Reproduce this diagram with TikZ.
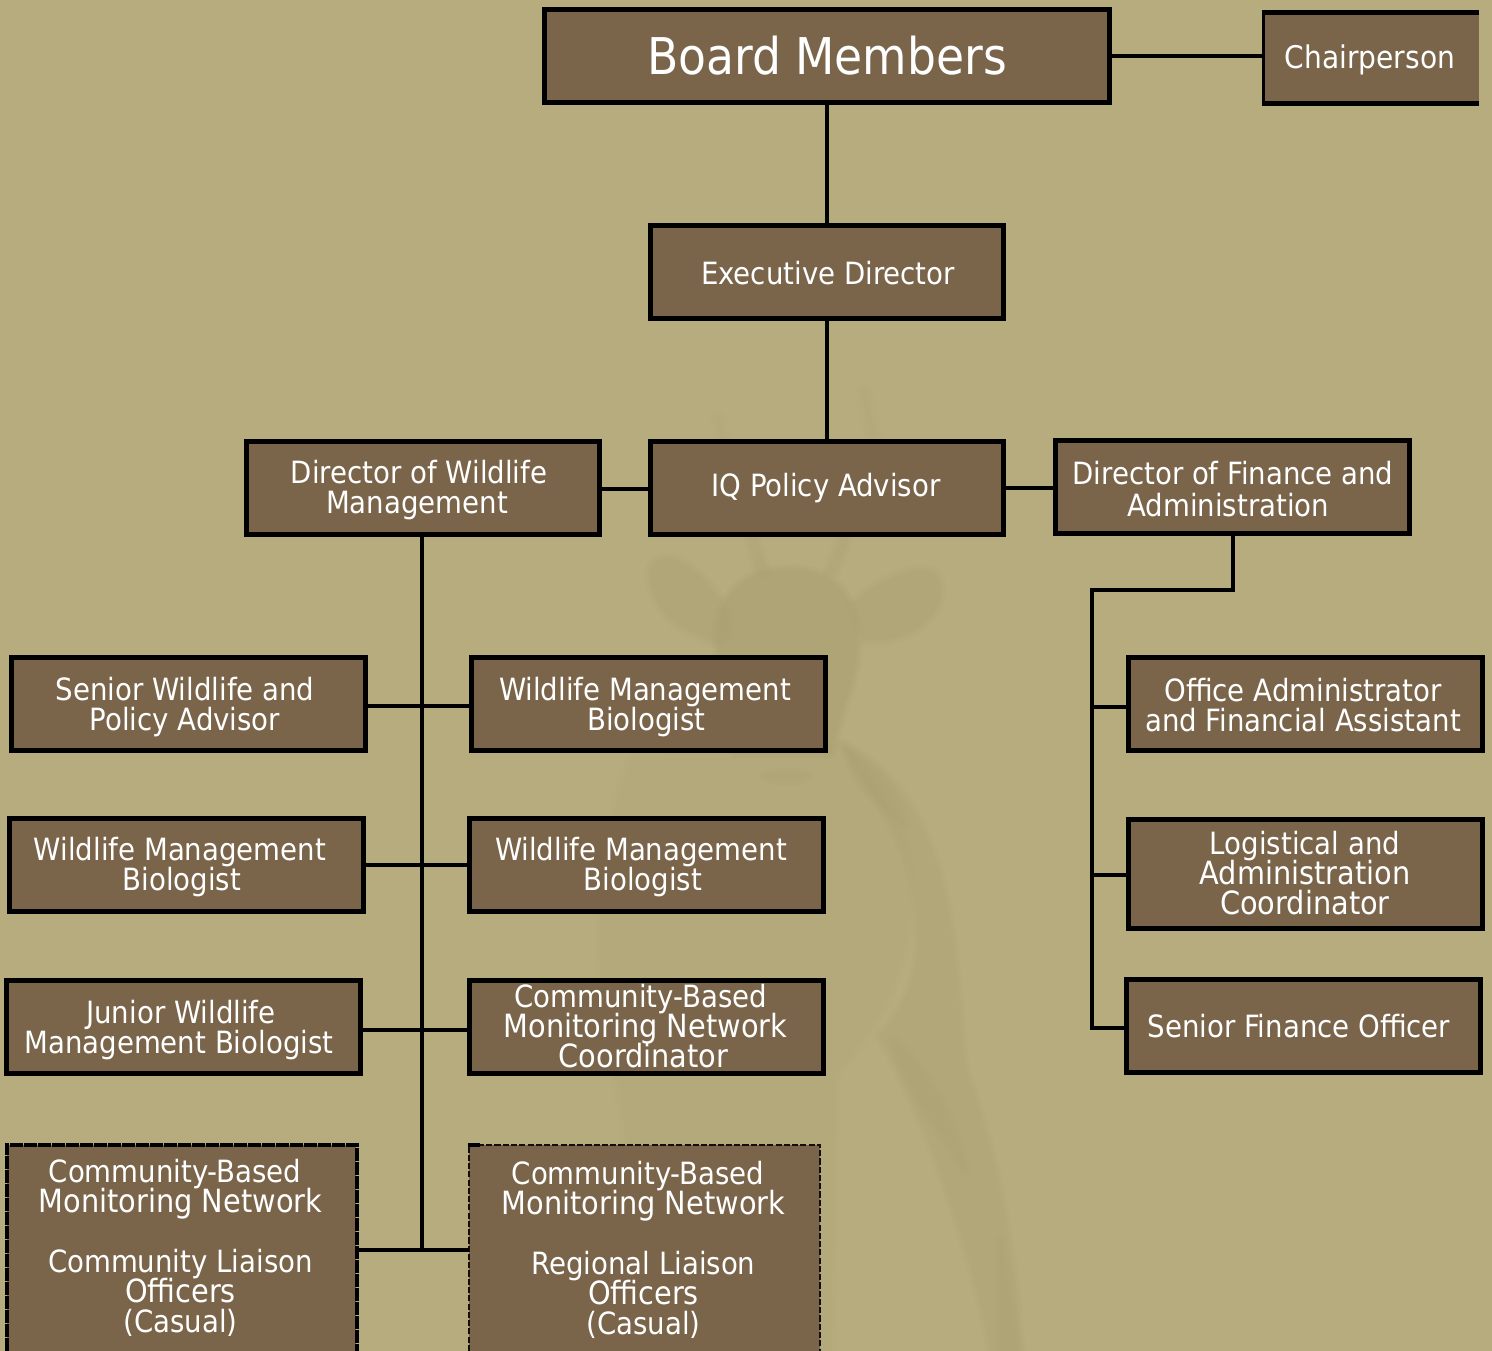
\documentclass[tikz,border=0pt]{standalone}
\usepackage{fontspec}
\setmainfont{DejaVu Sans Condensed}
\definecolor{bgc}{HTML}{B7AC7E}
\definecolor{boxc}{HTML}{7A654B}
\definecolor{deerc}{HTML}{A09566}
\newcommand{\fs}{\fontsize{23pt}{22.5pt}\selectfont\lineskiplimit=-100pt}
\newcommand{\bl}[1]{{\fontsize{24pt}{22.5pt}\selectfont #1}}
\tikzset{
  orgbox/.style={draw=black,line width=3.2pt,fill=boxc,rectangle,inner sep=0pt,line join=miter},
  openbox/.style={fill=boxc,rectangle,inner sep=0pt},
  lbl/.style={text=white,align=center,inner sep=0pt,font=\fs},
  link/.style={draw=black,line width=3.4pt,line cap=butt,line join=miter},
  dashL/.style={draw=black,line width=3pt,dash pattern=on 9.6pt off 0.9pt},
  dashR/.style={draw=black!85!boxc,line width=1.6pt,dash pattern=on 4.6pt off 1.6pt},
}
% a shape with soft edges: three stacked faint layers
\newcommand{\softshape}[2]{%
  \begin{scope}[transparency group,opacity=#1]\path[draw=deerc,fill=deerc,line join=round,line width=9pt] #2;\end{scope}
  \begin{scope}[transparency group,opacity=#1]\path[draw=deerc,fill=deerc,line join=round,line width=4pt] #2;\end{scope}
  \begin{scope}[transparency group,opacity=#1]\path[fill=deerc] #2;\end{scope}
}
\begin{document}
\begin{tikzpicture}[x=0.75pt,y=-0.75pt]
\useasboundingbox (0,0) rectangle (1492,1351);
\clip (0,0) rectangle (1492,1351);
\fill[bgc] (0,0) rectangle (1492,1351);
% faint caribou in the background
\softshape{.035}{(633,757) .. controls (600,830) and (590,950) .. (612,1060) .. controls (630,1120) and (630,1200) .. (640,1351) -- (830,1351) -- (835,1075) .. controls (900,1000) and (920,930) .. (905,850) .. controls (890,800) and (860,770) .. (843,745) -- cycle}
\softshape{.05}{(843,745) .. controls (890,770) and (925,810) .. (945,900) .. controls (960,980) and (960,1050) .. (965,1070) .. controls (985,1130) and (1010,1210) .. (1020,1351) -- (992,1351) .. controls (975,1260) and (930,1120) .. (880,1036) .. controls (915,1000) and (925,960) .. (915,890) .. controls (905,830) and (870,790) .. (843,745) -- cycle}
\softshape{.05}{(848,750) .. controls (880,770) and (900,800) .. (905,825) .. controls (885,805) and (855,790) .. (848,750) -- cycle}
\softshape{.05}{(893,1040) .. controls (920,1060) and (950,1110) .. (965,1170) .. controls (940,1130) and (905,1085) .. (893,1040) -- cycle}
\softshape{.05}{(1000,1240) .. controls (1005,1280) and (1012,1310) .. (1018,1351) -- (1000,1351) -- cycle}
% head, ears, antlers
\softshape{.10}{(718,625) .. controls (725,590) and (750,570) .. (790,570) .. controls (830,570) and (845,590) .. (852,612) .. controls (865,640) and (850,690) .. (845,700) -- (830,752) -- (735,752) .. controls (730,720) and (715,670) .. (718,625) -- cycle}
\softshape{.06}{(650,572) .. controls (660,540) and (705,570) .. (725,610) .. controls (735,640) and (722,650) .. (695,632) .. controls (670,625) and (650,600) .. (650,572) -- cycle}
\softshape{.06}{(852,605) .. controls (885,575) and (935,555) .. (940,585) .. controls (945,620) and (900,645) .. (865,640) -- cycle}
\softshape{.05}{(750,538) -- (755,538) -- (766,572) -- (758,572) -- cycle}
\softshape{.05}{(842,538) -- (848,538) -- (835,572) -- (828,572) -- cycle}
\softshape{.04}{(862,390) -- (866,390) -- (876,438) -- (870,438) -- cycle}
\softshape{.04}{(716,417) -- (719,417) -- (724,438) -- (721,438) -- cycle}
\softshape{.05}{(765,776) .. controls (780,773) and (795,773) .. (807,776) .. controls (795,781) and (780,781) .. (765,776) -- cycle}

% boxes (centre-line sizes)
\node[orgbox,minimum width=565*.75pt,minimum height=93*.75pt] (board) at (827,56) {};
\path[fill=boxc] (1264,12) rectangle (1479,104);
\node[inner sep=0pt,minimum width=215*.75pt,minimum height=92*.75pt] (chair) at (1371.5,58) {};
\draw[black,line width=3.6pt] (1479,12.5) -- (1261.5,12.5);
\draw[black,line width=2.6pt] (1263.5,10) -- (1263.5,106);
\draw[black,line width=3.6pt] (1261.5,103.5) -- (1479,103.5);
\node[orgbox,minimum width=353*.75pt,minimum height=93*.75pt] (exec) at (827,272) {};
\node[orgbox,minimum width=353*.75pt,minimum height=93*.75pt] (iq) at (827,488) {};
\node[orgbox,minimum width=353*.75pt,minimum height=93*.75pt] (dirw) at (423,488) {};
\node[orgbox,minimum width=354*.75pt,minimum height=93*.75pt] (dirf) at (1232.5,487) {};
\node[orgbox,minimum width=354*.75pt,minimum height=93*.75pt] (senior) at (188.5,704) {};
\node[orgbox,minimum width=354*.75pt,minimum height=93*.75pt] (wmbb) at (648.5,704) {};
\node[orgbox,minimum width=354*.75pt,minimum height=93*.75pt] (wmba) at (186.5,865) {};
\node[orgbox,minimum width=354*.75pt,minimum height=93*.75pt] (wmbc) at (646.5,865) {};
\node[orgbox,minimum width=354*.75pt,minimum height=93*.75pt] (junior) at (183.5,1027) {};
\node[orgbox,minimum width=354*.75pt,minimum height=93*.75pt] (coord) at (646.5,1027) {};
\node[orgbox,minimum width=354*.75pt,minimum height=109*.75pt] (logi) at (1305.5,874) {};
\node[orgbox,minimum width=354*.75pt,minimum height=93*.75pt] (office) at (1305.5,704) {};
\node[orgbox,minimum width=354*.75pt,minimum height=93*.75pt] (sfo) at (1303.5,1026) {};
\node[openbox,minimum width=349*.75pt,minimum height=220*.75pt] (cliaison) at (181.5,1255) {};
\node[openbox,minimum width=351*.75pt,minimum height=220*.75pt] (rliaison) at (644.5,1255) {};
\draw[dashL] (6.5,1351) -- (6.5,1144.5) -- (356.5,1144.5) -- (356.5,1351);
\draw[dashR] (469,1351) -- (469,1145) -- (820,1145) -- (820,1351);
\draw[black,line width=3pt] (467.5,1145) -- (480,1145);

% connectors
\coordinate (spineend) at (422,1250);
\coordinate (elbow) at (1092,590);
\coordinate (spineR) at (1092,1028);
\draw[link] (board.east) -- (chair.west |- board.east);
\draw[link] (board.south) -- (exec.north);
\draw[link] (exec.south) -- (iq.north);
\draw[link] ([yshift=-.75pt]dirw.east) -- ([yshift=-.75pt]iq.west);
\draw[link] (iq.east) -- (dirf.west |- iq.east);
\draw[link] (spineend |- dirw.south) -- (spineend);
\draw[link] ([yshift=-1.5pt]senior.east) -- ([yshift=-1.5pt]wmbb.west);
\draw[link] (wmba.east) -- (wmbc.west);
\draw[link] ([yshift=-2.25pt]junior.east) -- ([yshift=-2.25pt]coord.west);
\draw[link] (cliaison.east |- spineend) -- (rliaison.west |- spineend);
\draw[link] (1233,533) -- (1233,590) -- (elbow) -- (spineR) -- (spineR -| sfo.west);
\draw[link] (elbow |- 0,707) -- (office.west |- 0,707);
\draw[link] (elbow |- 0,875) -- (logi.west |- 0,875);

% labels
\node[lbl,font=\fontsize{38pt}{38pt}\selectfont] (tboard) at (827,56) {Board Members};
\node[lbl] (tchair) at (1370,60) {\fontsize{23.4pt}{22.5pt}\selectfont Chairperson};
\node[lbl] (texec) at (828,273) {Executive Director};
\node[lbl] (tiq) at (826,488) {IQ Policy Advisor};
\node[lbl] (tdirw) at (419,490) {Director of Wildlife\\Management\hspace*{3pt}};
\node[lbl] (tdirf) at (1233,489) {Director of Finance and\\[1pt]Administration\hspace*{7pt}};
\node[lbl] (tsenior) at (185,707) {Senior Wildlife and\\Policy Advisor};
\node[lbl] (twmbb) at (645,707) {Wildlife Management\\\hspace*{2pt}Biologist};
\node[lbl] (twmba) at (180,867) {Wildlife Management\\\hspace*{3pt}Biologist};
\node[lbl] (twmbc) at (641,867) {Wildlife Management\\\hspace*{3pt}Biologist};
\node[lbl] (tjunior) at (179,1030) {\hspace*{3pt}Junior Wildlife\\Management Biologist};
\node[lbl] (tcoord) at (645.5,1026) {Community-Based\hspace*{7pt}\\\bl{Monitoring Network}\\\bl{Coordinator}\hspace*{3pt}};
\node[lbl] (toffice) at (1303,705) {Office Administrator\\and Financial Assistant};
\node[lbl] (tlogi) at (1305,873) {Logistical and\\\bl{Administration}\\\bl{Coordinator}};
\node[lbl] (tsfo) at (1299,1026) {Senior Finance Officer};
\node[lbl] (tcl) at (180.5,1248) {Community-Based\hspace*{8pt}\\\bl{Monitoring Network}\\[22.5pt]Community Liaison\hspace*{5pt}\\\bl{Officers}\\(Casual)};
\node[lbl] (trl) at (643.5,1250) {Community-Based\hspace*{8pt}\\\bl{Monitoring Network}\\[22.5pt]Regional Liaison\hspace*{4pt}\\\bl{Officers}\\(Casual)};
\end{tikzpicture}
\end{document}
